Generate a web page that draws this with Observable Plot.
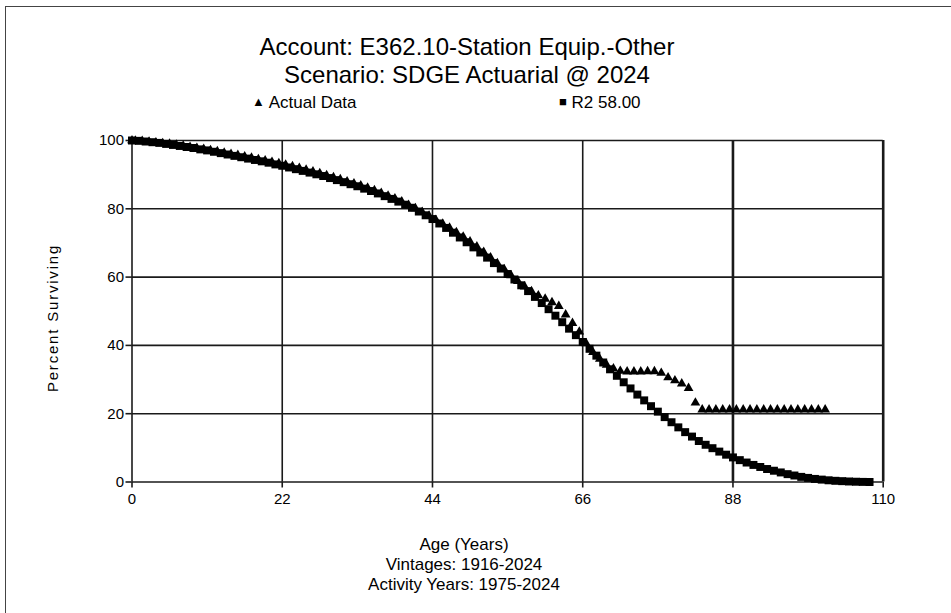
<!DOCTYPE html>
<html>
<head>
<meta charset="utf-8">
<script src="https://cdn.jsdelivr.net/npm/d3@7"></script>
<script src="https://cdn.jsdelivr.net/npm/@observablehq/plot@0.6"></script>
<style>
  html, body { margin: 0; padding: 0; background: #fff; }
  body { width: 951px; height: 613px; overflow: hidden; position: relative;
         font-family: "Liberation Sans", Arial, sans-serif; color: #000; }
  .sheet { position: absolute; left: 5px; top: 6px; width: 1000px; height: 700px;
           border-left: 1.5px solid #444; border-top: 1.5px solid #444; }
  .t { position: absolute; white-space: nowrap; transform: translateX(-50%); text-align: center; }
  .title { font-size: 24px; left: 467px; }
  .legend { position: absolute; font-size: 17px; white-space: nowrap; top: 93px; }
  .cap { font-size: 17px; left: 464px; }
  .ylab { position: absolute; font-size: 15px; letter-spacing: 1.8px; white-space: nowrap;
          left: 52px; top: 318px; transform: translate(-50%, -50%) rotate(-90deg); }
  #chart { position: absolute; left: 0; top: 0; }
</style>
</head>
<body>
<div class="sheet"></div>
<div id="chart"></div>
<div class="t title" style="top:33px">Account: E362.10-Station Equip.-Other</div>
<div class="t title" style="top:61px">Scenario: SDGE Actuarial @ 2024</div>
<div class="legend" style="left:252px"><span style="font-size:13px;vertical-align:2px">▲</span> Actual Data</div>
<div class="legend" style="left:559px"><span style="font-size:13px;vertical-align:2px">■</span> R2 58.00</div>
<div class="ylab">Percent Surviving</div>
<div class="t cap" style="top:535px">Age (Years)</div>
<div class="t cap" style="top:555px">Vintages: 1916-2024</div>
<div class="t cap" style="top:575px">Activity Years: 1975-2024</div>
<script>
// Axis ticks
const xTicks = [0, 22, 44, 66, 88, 110];
const yTicks = [0, 20, 40, 60, 80, 100];

// Observed survivorship (percent surviving) by age
const actualAges = [0, 0.5, 1.5, 2.5, 3.5, 4.5, 5.5, 6.5, 7.5, 8.5, 9.5,
  10.5, 11.5, 12.5, 13.5, 14.5, 15.5, 16.5, 17.5, 18.5, 19.5,
  20.5, 21.5, 22.5, 23.5, 24.5, 25.5, 26.5, 27.5, 28.5, 29.5,
  30.5, 31.5, 32.5, 33.5, 34.5, 35.5, 36.5, 37.5, 38.5, 39.5,
  40.5, 41.5, 42.5, 43.5, 44.5, 45.5, 46.5, 47.5, 48.5, 49.5,
  50.5, 51.5, 52.5, 53.5, 54.5, 55.5, 56.5, 57.5, 58.5, 59.5,
  60.5, 61.5, 62.5, 63.5, 64.5, 65.5, 66.5, 67.5, 68.5, 69.5,
  70.5, 71.5, 72.5, 73.5, 74.5, 75.5, 76.5, 77.5, 78.5, 79.5,
  80.5, 81.5, 82.5, 83.5, 84.5, 85.5, 86.5, 87.5, 88.5, 89.5,
  90.5, 91.5, 92.5, 93.5, 94.5, 95.5, 96.5, 97.5, 98.5, 99.5,
  100.5, 101.5];
const actualPct = [100, 99.9, 99.8, 99.6, 99.4, 99.2, 99.0, 98.7, 98.4, 98.1, 97.8,
  97.5, 97.1, 96.8, 96.4, 96.0, 95.7, 95.3, 94.9, 94.5, 94.1,
  93.7, 93.3, 92.9, 92.4, 91.9, 91.4, 90.9, 90.4, 89.8, 89.2,
  88.6, 88.0, 87.4, 86.8, 86.1, 85.4, 84.6, 83.8, 83.0, 82.1,
  81.1, 80.1, 79.0, 77.9, 76.7, 75.6, 74.4, 73.1, 71.8, 70.4,
  68.9, 67.3, 65.7, 64.0, 62.3, 60.5, 58.8, 57.2, 55.8, 54.6,
  53.6, 52.6, 51.5, 49.0, 46.5, 44.0, 40.6, 38.0, 36.0, 34.3,
  33.2, 32.5, 32.3, 32.3, 32.3, 32.4, 32.4, 31.9, 30.6, 29.7,
  28.8, 27.5, 23.2, 21.2, 21.2, 21.2, 21.2, 21.2, 21.2, 21.2,
  21.2, 21.2, 21.2, 21.2, 21.2, 21.2, 21.2, 21.2, 21.2, 21.2,
  21.2, 21.2];

// Fitted Iowa R2 curve, 58-year average life
const curveAges = d3.range(0, 109);
const curvePct = [100.0, 99.9, 99.7, 99.5, 99.3, 99.0, 98.7, 98.4, 98.1, 97.8,
  97.4, 97.1, 96.7, 96.3, 95.9, 95.5, 95.1, 94.7, 94.3, 93.9,
  93.5, 93.0, 92.6, 92.1, 91.6, 91.1, 90.6, 90.1, 89.6, 89.0,
  88.4, 87.8, 87.2, 86.6, 85.9, 85.2, 84.5, 83.7, 82.9, 82.1,
  81.2, 80.3, 79.2, 78.1, 77.0, 75.7, 74.4, 73.0, 71.6, 70.2,
  68.7, 67.2, 65.7, 64.1, 62.5, 60.9, 59.3, 57.6, 55.9, 54.2,
  52.4, 50.6, 48.7, 46.8, 44.9, 43.0, 41.0, 39.0, 37.0, 35.0,
  33.0, 31.1, 29.2, 27.4, 25.6, 23.9, 22.2, 20.6, 19.0, 17.5,
  16.0, 14.6, 13.3, 12.0, 10.9, 9.9, 8.9, 8.0, 7.2, 6.4,
  5.7, 5.0, 4.4, 3.8, 3.3, 2.8, 2.3, 1.9, 1.5, 1.2,
  0.9, 0.7, 0.5, 0.35, 0.25, 0.15, 0.08, 0.03, 0.0];

const actual = actualAges.map((age, i) => ({age, pct: actualPct[i]}));
const curve = curveAges.map((age, i) => ({age, pct: curvePct[i]}));

const ink = "#1a1a1a";
const heavy = new Set([xTicks[4], xTicks[5]]);

const chart = Plot.plot({
  width: 951,
  height: 613,
  marginLeft: 131.5,
  marginRight: 68.3,
  marginTop: 140,
  marginBottom: 131.5,
  style: {fontFamily: "'Liberation Sans', Arial, sans-serif", fontSize: "15px", color: "#000", background: "transparent"},
  x: {domain: [0, 110]},
  y: {domain: [0, 100]},
  marks: [
    Plot.gridY(yTicks, {stroke: ink, strokeOpacity: 1, strokeWidth: 1.6}),
    Plot.gridX(xTicks, {stroke: ink, strokeOpacity: 1, strokeWidth: d => heavy.has(d) ? 2.6 : 1.6}),
    Plot.axisY({ticks: yTicks, tickSize: 6, tickPadding: 2, stroke: ink, strokeWidth: 1.6, label: null, fontSize: 15}),
    Plot.axisX({ticks: xTicks, tickSize: 6, tickPadding: 5, stroke: ink, strokeWidth: 1.6, label: null, fontSize: 15}),
    Plot.dot(curve, {x: "age", y: "pct", symbol: "square", r: 4.5, fill: "#000", stroke: "none"}),
    Plot.dot(actual, {x: "age", y: "pct", symbol: "triangle", r: 3.6, fill: "#000", stroke: "none"})
  ]
});
document.getElementById("chart").appendChild(chart);
</script>
</body>
</html>
